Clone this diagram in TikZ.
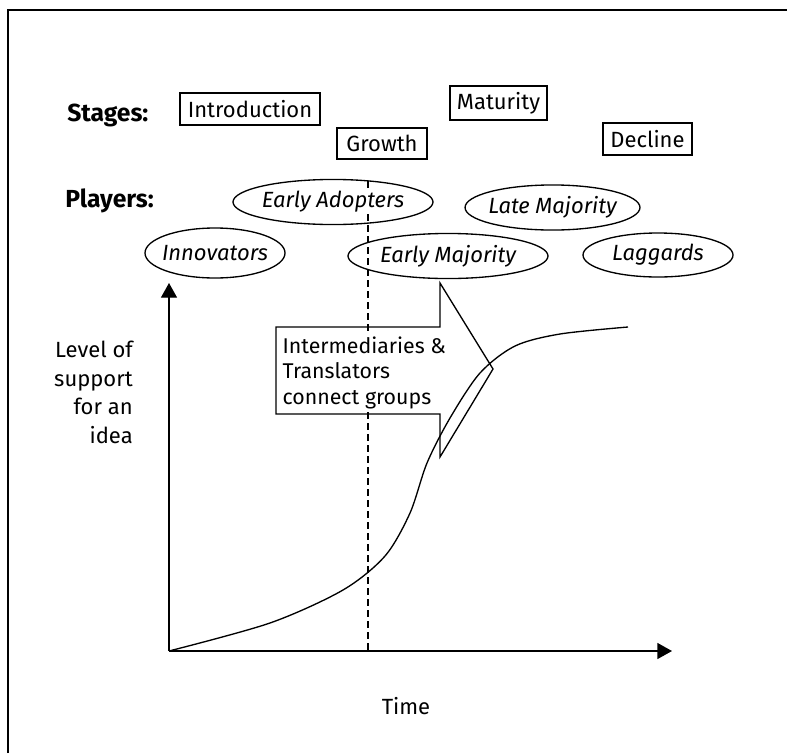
\documentclass[tikz,border=0pt]{standalone}
\usepackage{fontspec}
\setmainfont{Fira Sans}
\usetikzlibrary{arrows.meta}
\begin{document}
\begin{tikzpicture}[x=0.75pt,y=-0.75pt,
  font=\fontsize{16.5}{19}\selectfont,
  stagebox/.style={draw, line width=0.8pt, inner sep=0pt, minimum height=24pt},
  ptext/.style={font=\fontsize{16.5}{19}\selectfont\itshape, fill=white, inner sep=1pt},
  oval/.style={line width=1pt},
  axis/.style={line width=1pt, -{Triangle[length=11pt,width=12pt]}},
  heading/.style={font=\fontsize{18.5}{21}\selectfont\bfseries, inner sep=0pt, anchor=base west}
]
\useasboundingbox (0,0) rectangle (787,753);
% frame
\draw[line width=1.2pt] (8,753) -- (8,10) -- (787,10);

% dashed divider
\coordinate (dtop) at (368,181);
\coordinate (dbot) at (368,651);
\draw[line width=0.9pt, dash pattern=on 5.25pt off 3pt] (dtop) -- (dbot);

% headings
\node[heading] (stg) at (67,121) {Stages:};
\node[heading] (ply) at (65,207) {Players:};

% stage boxes
\node[stagebox, minimum width=105pt] (intro) at (250,109) {Introduction};
\node[stagebox, minimum width=67.5pt, minimum height=23.25pt] (growth) at (382,143.5) {Growth};
\node[stagebox, minimum width=72.75pt, minimum height=25.5pt] (mat) at (498.5,103) {Maturity};
\node[stagebox, minimum width=66.75pt] (dec) at (647.5,139) {Decline};

% players
\node[ptext] (ea) at (333,202) {Early Adopters};
\draw[oval] (ea.center) ellipse [x radius=75pt, y radius=16.9pt];
\node[ptext] (inn) at (215,253) {Innovators};
\draw[oval] (inn.center) ellipse [x radius=52.5pt, y radius=18.75pt];
\node[ptext] (em) at (448,256) {Early Majority};
\draw[oval] (em.center) ellipse [x radius=75pt, y radius=16.9pt];
\node[ptext] (lm) at (552.5,207.5) {Late Majority};
\draw[oval] (lm.center) ellipse [x radius=65.6pt, y radius=16.9pt];
\node[ptext] (lag) at (658,255) {Laggards};
\draw[oval] (lag.center) ellipse [x radius=56.25pt, y radius=16.5pt];

% axes
\coordinate (o) at (169,651);
\coordinate (ytip) at (169,283);
\coordinate (xtip) at (672,651);
\draw[axis] (o) -- (ytip);
\draw[axis] (o) -- (xtip);

% S-curve
\draw[line width=1pt] plot[smooth, tension=0.5] coordinates {
  (169,651) (270,623) (343,590) (385,556) (410,513)
  (427,463) (450,418) (480,373) (515,346) (560,334) (628,327)};

% callout arrow
\draw[line width=1pt, line join=miter]
  (276,327) -- (440,327) -- (440,283) -- (493,369) -- (440,457) -- (440,414) -- (276,414) -- cycle;
\node[align=left, anchor=north west, inner sep=1pt, fill=white,
      font=\fontsize{16}{19.1}\selectfont] (call) at (281,335)
  {Intermediaries \&\\Translators\\connect groups};

% axis labels
\node[align=right, anchor=north east, inner sep=0pt,
      font=\fontsize{16.5}{21.4}\selectfont] (ylab) at (133,341)
  {Level of\\support\\for an\\idea};
\node[inner sep=0pt] (time) at (406,706) {Time};
\end{tikzpicture}
\end{document}
